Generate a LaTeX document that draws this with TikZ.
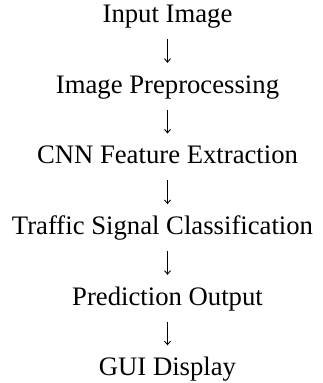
\documentclass[tikz,border=0pt]{standalone}
\usepackage{fontspec}
\setmainfont{Liberation Serif}
\usetikzlibrary{arrows.meta}
\begin{document}
\begin{tikzpicture}[x=1pt,y=-1pt,
  lbl/.style={anchor=base,inner sep=0pt,text height=18pt,text depth=6pt,font=\fontsize{26.7}{30}\selectfont},
  conn/.style={line width=0.75pt,-{Straight Barb[length=3.5pt,width=6pt,line width=0.9pt]},shorten <=10.5pt,shorten >=12pt}]
\useasboundingbox (0,0) rectangle (322,383);
\node[lbl] (a) at (167.5,22.5) {Input Image};
\node[lbl] (b) at (167.5,93) {Image Preprocessing};
\node[lbl] (c) at (167.5,163.7) {CNN Feature Extraction};
\node[lbl] (d) at (162.5,234.3) {Traffic Signal Classification};
\node[lbl] (e) at (167.5,305) {Prediction Output};
\node[lbl] (f) at (167.5,375.5) {GUI Display};
\draw[conn] (a.south) -- (b.north);
\draw[conn] (b.south) -- (c.north);
\draw[conn] (c.south) -- (c.south |- d.north);
\draw[conn] (e.north |- d.south) -- (e.north);
\draw[conn] (e.south) -- (f.north);
\end{tikzpicture}
\end{document}
